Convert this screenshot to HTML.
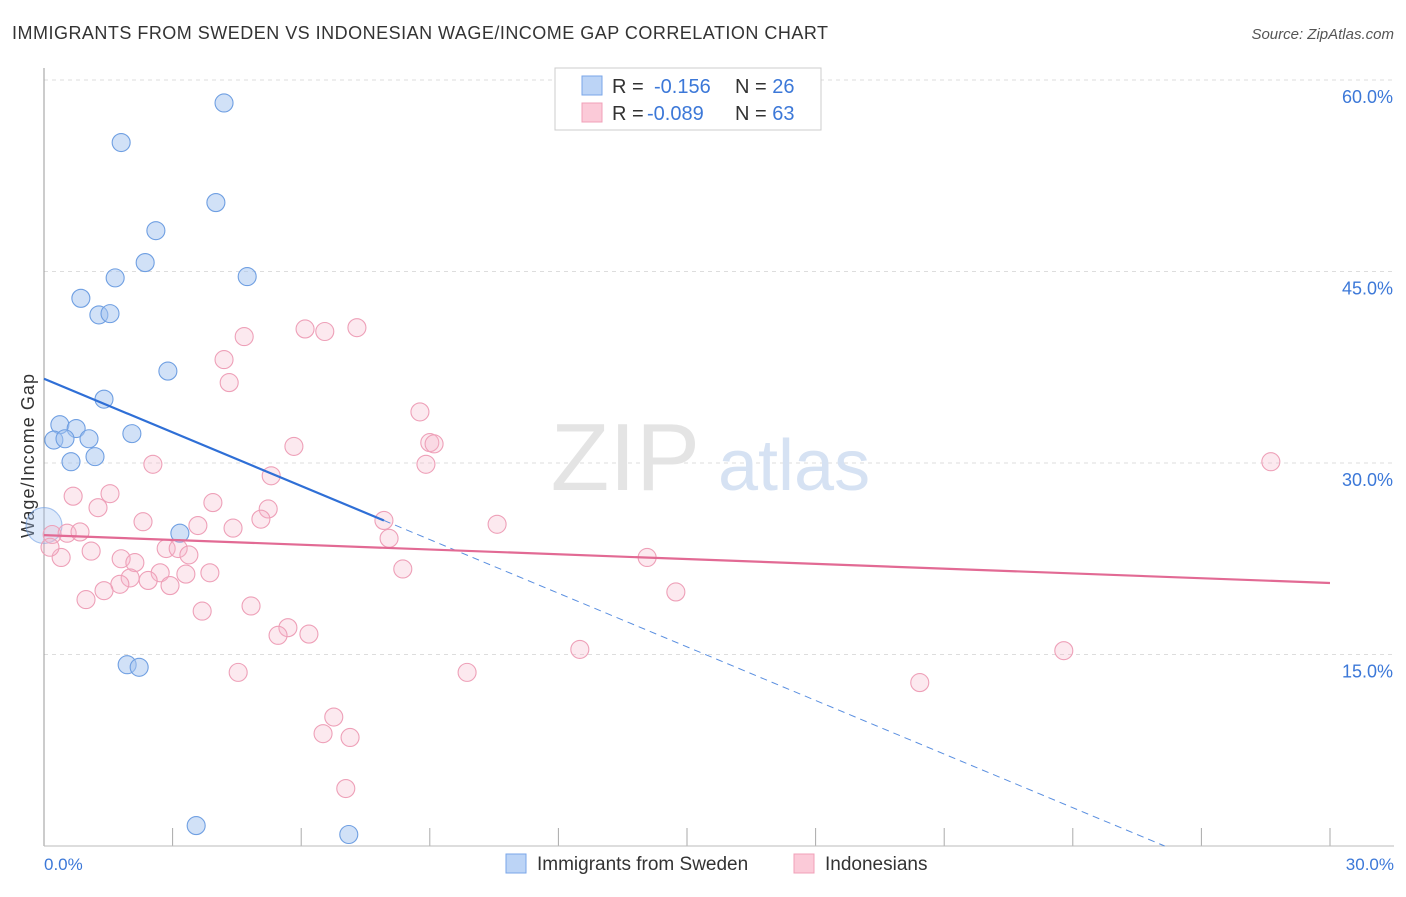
<!DOCTYPE html>
<html><head><meta charset="utf-8"><style>
body{margin:0;background:#fff;font-family:"Liberation Sans",sans-serif}
svg text{font-family:"Liberation Sans",sans-serif}
</style></head><body>
<svg width="1406" height="892">
<text x="12" y="39" font-size="18" fill="#333" textLength="816">IMMIGRANTS FROM SWEDEN VS INDONESIAN WAGE/INCOME GAP CORRELATION CHART</text>
<text x="1394" y="39" font-size="15" fill="#555" font-style="italic" text-anchor="end">Source: ZipAtlas.com</text>
<g id="grid"></g>
<text x="700" y="490" font-size="96" fill="#e4e4e4" text-anchor="end" font-family="Liberation Serif">ZIP</text>
<text x="718" y="490" font-size="72" fill="#d6e2f3">atlas</text>
<line x1="44" y1="68" x2="44" y2="846" stroke="#999"/>
<line x1="44" y1="846" x2="1394" y2="846" stroke="#bbb"/>
<text transform="translate(34,456) rotate(-90)" font-size="18" fill="#333" text-anchor="middle" textLength="164">Wage/Income Gap</text>
<g id="marks"></g>
<rect x="555" y="68" width="266" height="62" fill="#fff" stroke="#ccc"/>
<rect x="582" y="76" width="20" height="19" fill="#bcd4f6" stroke="#7aa6e8"/>
<rect x="582" y="103" width="20" height="19" fill="#fbcad8" stroke="#f0a0b8"/>
<text x="612" y="93" font-size="20" fill="#333">R = <tspan x="654" fill="#3c78d8">-0.156</tspan><tspan x="735" fill="#333">N = </tspan><tspan fill="#3c78d8">26</tspan></text>
<text x="612" y="120" font-size="20" fill="#333">R = <tspan x="647" fill="#3c78d8">-0.089</tspan><tspan x="735" fill="#333">N = </tspan><tspan fill="#3c78d8">63</tspan></text>
<text x="44" y="870" font-size="17" fill="#3c78d8">0.0%</text>
<text x="1394" y="870" font-size="17" fill="#3c78d8" text-anchor="end">30.0%</text>
<rect x="506" y="854" width="20" height="19" fill="#bcd4f6" stroke="#7aa6e8"/>
<text x="537" y="870" font-size="19" fill="#333">Immigrants from Sweden</text>
<rect x="794" y="854" width="20" height="19" fill="#fbcad8" stroke="#f0a0b8"/>
<text x="825" y="870" font-size="19" fill="#333">Indonesians</text>
</svg>
<script>
const yTicks=[15,30,45,60];
const yTickLabels=["15.0%","30.0%","45.0%","60.0%"];
const xTicks=[0,3,6,9,12,15,18,21,24,27,30];
const swedenX=[4.20,1.80,4.01,2.61,2.36,1.66,4.74,0.86,1.28,1.54,2.89,1.40,0.37,0.75,0.23,0.49,1.05,2.05,0.63,1.19,3.17,1.94,2.22,3.55,7.11,0];
const swedenY=[58.2,55.1,50.4,48.2,45.7,44.5,44.6,42.9,41.6,41.7,37.2,35.0,33.0,32.7,31.8,31.9,31.9,32.3,30.1,30.5,24.5,14.2,14.0,1.6,0.9,25.1];
const indoX=[4.20,4.32,4.67,6.09,6.55,7.30,8.77,9.00,9.10,8.91,28.62,0.68,1.54,1.26,2.54,3.94,5.23,5.30,5.83,2.31,3.59,4.41,5.06,7.93,10.57,8.05,0.19,0.54,0.84,1.10,0.40,1.80,2.12,2.85,3.13,3.38,2.71,3.31,3.87,8.37,14.07,2.01,1.77,2.43,2.94,1.40,0.98,14.74,3.69,4.83,5.69,5.46,6.18,4.53,9.87,12.50,23.79,20.43,6.76,6.51,7.14,7.04,0.14];
const indoY=[38.1,36.3,39.9,40.5,40.3,40.6,34.0,31.6,31.5,29.9,30.1,27.4,27.6,26.5,29.9,26.9,26.4,29.0,31.3,25.4,25.1,24.9,25.6,25.5,25.2,24.1,24.4,24.5,24.6,23.1,22.6,22.5,22.2,23.3,23.3,22.8,21.4,21.3,21.4,21.7,22.6,21.0,20.5,20.8,20.4,20.0,19.3,19.9,18.4,18.8,17.1,16.5,16.6,13.6,13.6,15.4,15.3,12.8,10.1,8.8,8.5,4.5,23.4];
const swedenTrend=[36.6,-1.40];
const indoTrend=[24.35,-0.125];
const X=v=>44+v*(1286/30), Y=v=>846-v*(766/60);
const NS="http://www.w3.org/2000/svg";
function mk(t,a,p){const e=document.createElementNS(NS,t);for(const k in a)e.setAttribute(k,a[k]);p.appendChild(e);return e;}
const grid=document.getElementById('grid'), marks=document.getElementById('marks');
yTicks.forEach((v,i)=>{
 const l=mk('line',{x1:44,x2:1394,y1:Y(v),y2:Y(v),stroke:'#ddd','stroke-dasharray':'4,4'},grid);
 
 
 const t=mk('text',{x:1393,y:Y(v)+23,'font-size':18,fill:'#3c78d8','text-anchor':'end'},grid);
 t.textContent=yTickLabels[i];
 
 
});
xTicks.forEach(v=>{
 const l=mk('line',{x1:X(v),x2:X(v),y1:828,y2:846,stroke:'#aaa'},grid);
 
 
});
swedenX.forEach((x,i)=>{
 const big=i==swedenX.length-1;
 const c=mk('circle',{cx:X(x),cy:Y(swedenY[i]),r:big?18:9,fill:big?'rgba(164,196,240,0.35)':'rgba(164,196,240,0.5)',stroke:big?'rgba(111,159,226,0.6)':'#6f9fe2','stroke-width':1.1},marks);
 
 
});
indoX.forEach((x,i)=>{
 const c=mk('circle',{cx:X(x),cy:Y(indoY[i]),r:9,fill:'rgba(246,182,202,0.3)',stroke:'#eea0b8','stroke-width':1.1},marks);
 
 
});
const bEnd=7.93, bZero=-swedenTrend[0]/swedenTrend[1];
let l1=mk('line',{x1:X(0),y1:Y(swedenTrend[0]),x2:X(bEnd),y2:Y(swedenTrend[0]+swedenTrend[1]*bEnd),stroke:'#2f6fd6','stroke-width':2.2},marks);


let l2=mk('line',{x1:X(bEnd),y1:Y(swedenTrend[0]+swedenTrend[1]*bEnd),x2:X(bZero),y2:Y(0),stroke:'#5a8fe0','stroke-width':1,'stroke-dasharray':'7,5'},marks);


let l3=mk('line',{x1:X(0),y1:Y(indoTrend[0]),x2:X(30),y2:Y(indoTrend[0]+indoTrend[1]*30),stroke:'#e26a94','stroke-width':2.2},marks);


</script>
</body></html>
